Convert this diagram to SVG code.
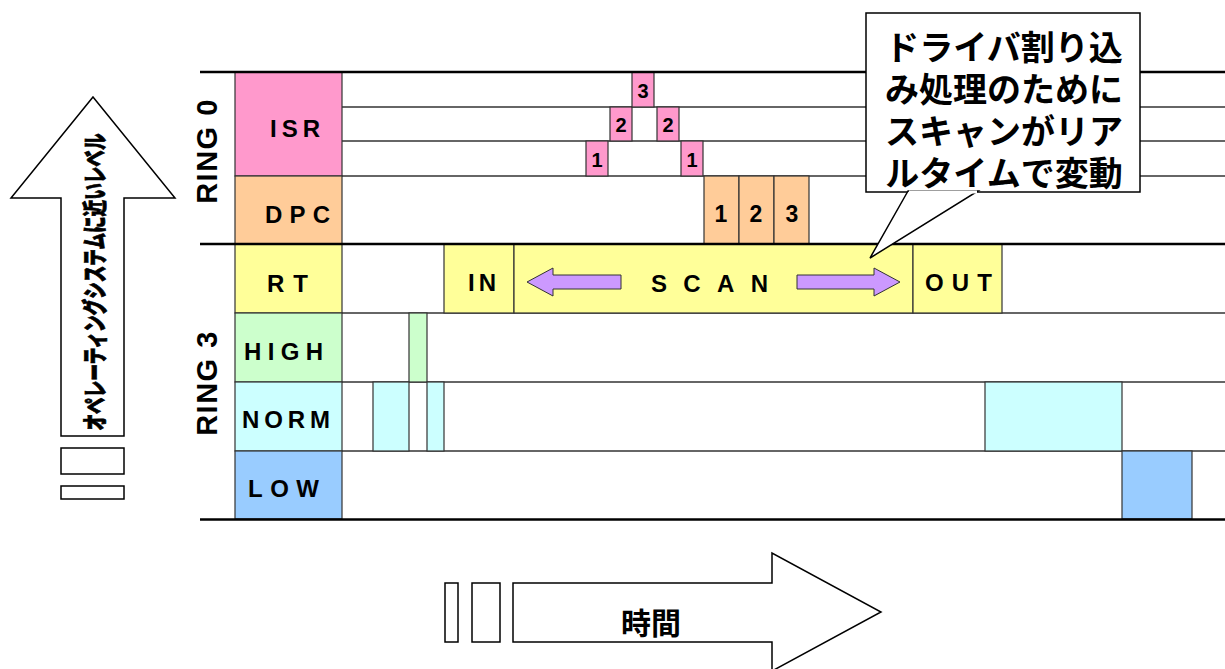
<svg xmlns="http://www.w3.org/2000/svg" width="1225" height="669" viewBox="0 0 1225 669">
<style>
.lbl{font-family:"Liberation Sans",Arial,sans-serif;font-weight:bold;font-size:24px;fill:#000;dominant-baseline:central}
.num{font-family:"Liberation Sans",Arial,sans-serif;font-weight:bold;font-size:20px;fill:#000;text-anchor:middle;dominant-baseline:central}
.dnum{font-size:23px}
.ring{font-family:"Liberation Sans",Arial,sans-serif;font-weight:bold;font-size:29px;letter-spacing:1.5px;fill:#000;text-anchor:middle;dominant-baseline:central}
.jp{font-family:"Noto Sans CJK JP",sans-serif;font-weight:bold;fill:#000;text-anchor:middle;dominant-baseline:central}
.box{stroke:#333;stroke-width:1.2}
.thick{stroke:#000;stroke-width:2.5}
.thin{stroke:#333;stroke-width:1.6}
.outline{fill:#fff;stroke:#000;stroke-width:1.5}
</style>

<g id="grid" fill="none">
<line class="thin" x1="342" y1="107" x2="1225" y2="107"/>
<line class="thin" x1="342" y1="141" x2="1225" y2="141"/>
<line class="thin" x1="235" y1="176" x2="1225" y2="176"/>
<line class="thin" x1="235" y1="313" x2="1225" y2="313"/>
<line class="thin" x1="235" y1="382" x2="1225" y2="382"/>
<line class="thin" x1="235" y1="451" x2="1225" y2="451"/>
</g>

<g id="labels">
<g id="isr-label"><rect class="box" x="235" y="72" width="107" height="104" fill="#FF99CC"/><text class="lbl" x="270" y="128" textLength="50" lengthAdjust="spacing">ISR</text></g>
<g id="dpc-label"><rect class="box" x="235" y="176" width="107" height="68" fill="#FFCC99"/><text class="lbl" x="265" y="214" textLength="65" lengthAdjust="spacing">DPC</text></g>
<g id="rt-label"><rect class="box" x="235" y="244" width="107" height="69" fill="#FFFF99"/><text class="lbl" x="267" y="283" textLength="41" lengthAdjust="spacing">RT</text></g>
<g id="high-label"><rect class="box" x="235" y="313" width="107" height="69" fill="#CCFFCC"/><text class="lbl" x="244" y="351" textLength="79" lengthAdjust="spacing">HIGH</text></g>
<g id="norm-label"><rect class="box" x="235" y="382" width="107" height="69" fill="#CCFFFF"/><text class="lbl" x="242" y="419" textLength="88" lengthAdjust="spacing">NORM</text></g>
<g id="low-label"><rect class="box" x="235" y="451" width="107" height="68" fill="#99CCFF"/><text class="lbl" x="248" y="488" textLength="71" lengthAdjust="spacing">LOW</text></g>
</g>

<g id="ring0"><text class="ring" transform="translate(207,151) rotate(-90)">RING 0</text></g>
<g id="ring3"><text class="ring" transform="translate(207,383) rotate(-90)">RING 3</text></g>

<g id="isr-events">
<g id="isr-1a"><rect class="box" x="586" y="141" width="22" height="35" fill="#FF99CC"/><text class="num" x="597" y="160">1</text></g>
<g id="isr-2a"><rect class="box" x="610" y="107" width="22" height="34" fill="#FF99CC"/><text class="num" x="621" y="125">2</text></g>
<g id="isr-3"><rect class="box" x="632" y="72" width="22" height="35" fill="#FF99CC"/><text class="num" x="643" y="91">3</text></g>
<g id="isr-2b"><rect class="box" x="657" y="107" width="22" height="34" fill="#FF99CC"/><text class="num" x="668" y="125">2</text></g>
<g id="isr-1b"><rect class="box" x="681" y="141" width="22" height="35" fill="#FF99CC"/><text class="num" x="692" y="160">1</text></g>
</g>

<g id="dpc-events">
<g id="dpc-1"><rect class="box" x="704" y="176" width="35" height="68" fill="#FFCC99"/><text class="num dnum" x="721" y="214">1</text></g>
<g id="dpc-2"><rect class="box" x="739" y="176" width="35" height="68" fill="#FFCC99"/><text class="num dnum" x="756" y="214">2</text></g>
<g id="dpc-3"><rect class="box" x="774" y="176" width="35" height="68" fill="#FFCC99"/><text class="num dnum" x="792" y="214">3</text></g>
</g>

<g id="rt-events">
<g id="rt-in"><rect class="box" x="444" y="244" width="70" height="69" fill="#FFFF99"/><text class="lbl" x="468" y="282" textLength="28" lengthAdjust="spacing">IN</text></g>
<g id="rt-scan"><rect class="box" x="514" y="244" width="399" height="69" fill="#FFFF99"/>
<polygon points="527,282 553,268 553,275 621,275 621,289 553,289 553,296" fill="#CC99FF" stroke="#333" stroke-width="1"/>
<polygon points="900,282 874,268 874,275 797,275 797,289 874,289 874,296" fill="#CC99FF" stroke="#333" stroke-width="1"/>
<text class="lbl" x="651" y="283" textLength="117" lengthAdjust="spacing">SCAN</text></g>
<g id="rt-out"><rect class="box" x="913" y="244" width="89" height="69" fill="#FFFF99"/><text class="lbl" x="925" y="282" textLength="67" lengthAdjust="spacing">OUT</text></g>
</g>

<g id="high-events"><rect class="box" x="409" y="313" width="18" height="69" fill="#CCFFCC"/></g>
<g id="norm-events">
<rect class="box" x="373" y="382" width="36" height="69" fill="#CCFFFF"/>
<rect class="box" x="427" y="382" width="17" height="69" fill="#CCFFFF"/>
<rect class="box" x="985" y="382" width="137" height="69" fill="#CCFFFF"/>
</g>
<g id="low-events"><rect class="box" x="1122" y="451" width="70" height="68" fill="#99CCFF"/></g>

<g id="frame">
<line class="thick" x1="200" y1="72" x2="1225" y2="72"/>
<line class="thick" x1="200" y1="244" x2="1225" y2="244"/>
<line class="thick" x1="200" y1="519.5" x2="1225" y2="519.5"/>
</g>

<g id="callout">
<rect class="outline" x="866" y="13" width="274" height="179"/>
<polygon points="908,191 870,258 978,191" fill="#fff" stroke="#000" stroke-width="1.5"/>
<line x1="909" y1="192" x2="977" y2="192" stroke="#fff" stroke-width="3"/>
<text class="jp" x="1004" y="45" style="font-size:34px">ドライバ割り込</text>
<text class="jp" x="1004" y="87" style="font-size:34px">み処理のために</text>
<text class="jp" x="1004" y="129" style="font-size:34px">スキャンがリア</text>
<text class="jp" x="1004" y="171" style="font-size:34px">ルタイムで変動</text>
</g>

<g id="level-arrow">
<polygon class="outline" points="93,97 175,198 124,198 124,436 61,436 61,198 11,198"/>
<rect class="outline" x="61" y="448" width="63" height="26"/>
<rect class="outline" x="61" y="486" width="63" height="13"/>
<text class="jp" transform="translate(93,282) rotate(-90)" style="font-size:25px;font-weight:900;stroke:#000;stroke-width:0.8" textLength="297" lengthAdjust="spacingAndGlyphs">オペレーティングシステムに近いレベル</text>
</g>

<g id="time-arrow">
<rect class="outline" x="445" y="583" width="13" height="59"/>
<rect class="outline" x="472" y="583" width="28" height="59"/>
<polygon class="outline" points="513,583 772,583 772,553 881,612 772,671 772,642 513,642"/>
<text class="jp" x="651" y="621" style="font-size:30px">時間</text>
</g>
</svg>
